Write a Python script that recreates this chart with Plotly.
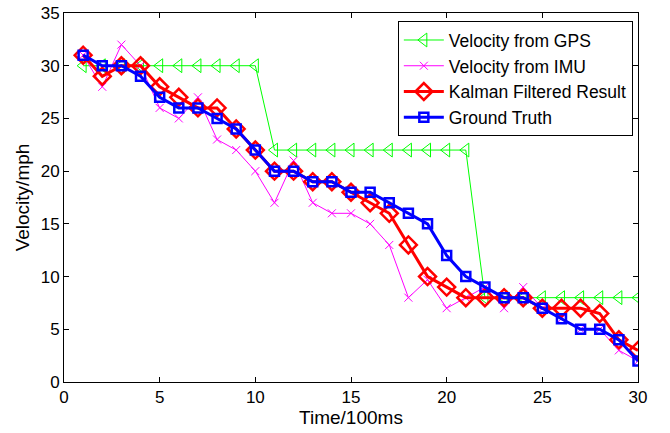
import plotly.graph_objects as go

time = list(range(1, 31))
gps = [30]*10 + [22]*11 + [8]*9
imu = [31, 28, 32, 30, 26, 25, 27, 23, 22, 20,
       17, 21, 17, 16, 16, 15, 13, 8, 9.7, 7,
       8, 9, 7, 9, 7, 6, 5, 5, 3, 2]
kalman = [31, 29, 30, 30, 28, 27, 26, 26, 24, 22,
          20, 20, 19, 19, 18, 17, 16, 13, 10, 9,
          8, 8, 8, 8, 7, 7, 7, 6.5, 4, 3]
truth = [31, 30, 30, 29, 27, 26, 26, 25, 24, 22,
         20, 20, 19, 19, 18, 18, 17, 16, 15, 12,
         10, 9, 8, 8, 7, 6, 5, 5, 4, 2]

fig = go.Figure()
fig.add_trace(go.Scatter(x=time, y=gps, name="Velocity from GPS", mode="lines+markers",
                         line=dict(color="#00FF00", width=1),
                         marker=dict(symbol="triangle-left-open", size=12, color="#00FF00",
                                     line=dict(width=1, color="#00FF00"))))
fig.add_trace(go.Scatter(x=time, y=imu, name="Velocity from IMU", mode="lines+markers",
                         line=dict(color="#FF00FF", width=1),
                         marker=dict(symbol="x-thin-open", size=8, color="#FF00FF",
                                     line=dict(width=1, color="#FF00FF"))))
fig.add_trace(go.Scatter(x=time, y=kalman, name="Kalman Filtered Result", mode="lines+markers",
                         line=dict(color="#FF0000", width=3),
                         marker=dict(symbol="diamond-open", size=13, color="#FF0000",
                                     line=dict(width=2.5, color="#FF0000"))))
fig.add_trace(go.Scatter(x=time, y=truth, name="Ground Truth", mode="lines+markers",
                         line=dict(color="#0000FF", width=3),
                         marker=dict(symbol="square-open", size=9, color="#0000FF",
                                     line=dict(width=2.5, color="#0000FF"))))

axis_common = dict(showline=True, linecolor="black", linewidth=1, mirror="ticks",
                   ticks="inside", ticklen=5, tickcolor="black", showgrid=False,
                   zeroline=False, automargin=False,
                   tickfont=dict(family="Liberation Sans, Arial", size=17, color="black"))

fig.update_layout(
    width=670, height=433,
    margin=dict(l=64, r=32, t=13, b=51),
    paper_bgcolor="white", plot_bgcolor="white",
    font=dict(family="Liberation Sans, Arial", size=16, color="black"),
    showlegend=True,
    legend=dict(x=0.991, y=0.978, xanchor="right", yanchor="top",
                bordercolor="black", borderwidth=1, bgcolor="white",
                font=dict(size=17.5), tracegroupgap=0, itemwidth=40),
    xaxis=dict(range=[0, 30], tickvals=[0, 5, 10, 15, 20, 25, 30],
               title=dict(text="Time/100ms", standoff=0), **axis_common),
    yaxis=dict(range=[0, 35], tickvals=[0, 5, 10, 15, 20, 25, 30, 35],
               title=dict(text="Velocity/mph", standoff=6), **axis_common),
)

fig.write_html("out.html")
